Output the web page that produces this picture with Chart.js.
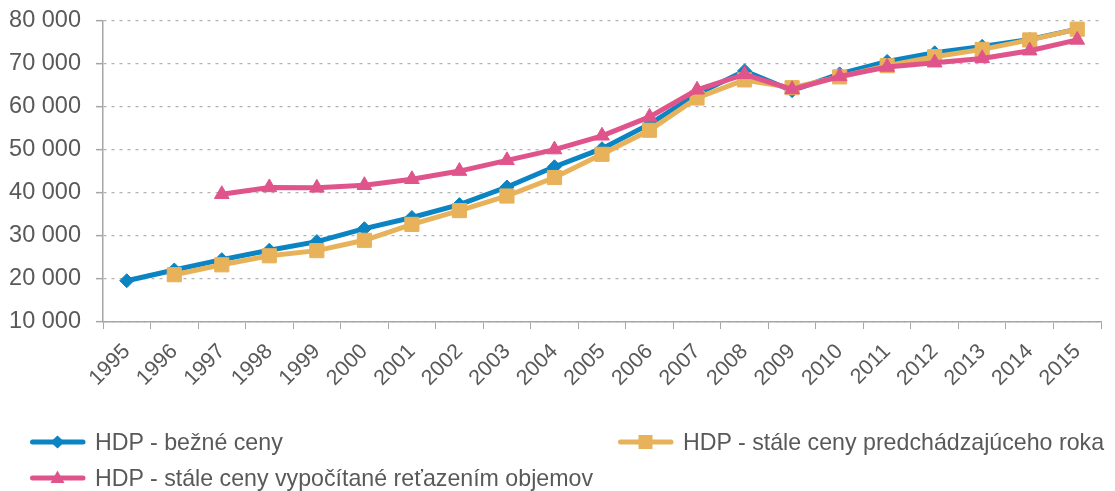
<!DOCTYPE html>
<html>
<head>
<meta charset="utf-8">
<script src="https://cdn.jsdelivr.net/npm/chart.js@4/dist/chart.umd.min.js"></script>
<style>
  html, body { margin: 0; padding: 0; background: #ffffff; }
  #wrap { position: relative; width: 1115px; height: 491px; overflow: hidden; }
  #c { position: absolute; left: 0; top: 0; }
  .lg { position: absolute; height: 26px; font-family: "Liberation Sans", Arial, sans-serif; font-size: 23.2px; line-height: 26px; color: #595959; white-space: nowrap; }
  .lg svg { position: absolute; left: 0; top: 3px; }
  .lg span { position: absolute; top: 0; }
</style>
</head>
<body>
<div id="wrap">
  <canvas id="c" width="1115" height="491"></canvas>
  <div id="legend"></div>
</div>
<script>
// ---- data ----
const years = ["1995","1996","1997","1998","1999","2000","2001","2002","2003","2004","2005","2006","2007","2008","2009","2010","2011","2012","2013","2014","2015"];
const bezneCeny = [19600, 22100, 24500, 26700, 28700, 31700, 34300, 37300, 41400, 46100, 50300, 56000, 63000, 68400, 63800, 67700, 70600, 72600, 74100, 75700, 78100];
const stalePredRoka = [null, 21000, 23300, 25400, 26600, 29000, 32700, 35900, 39300, 43600, 49000, 54600, 62100, 66300, 64500, 67000, 69600, 71700, 73400, 75600, 78100];
const staleRetazenie = [null, null, 39700, 41300, 41200, 41800, 43200, 45100, 47600, 50100, 53300, 57700, 64000, 67600, 64100, 67100, 69300, 70300, 71300, 73100, 75600];
const seriesNames = ["HDP - bežné ceny", "HDP - stále ceny predchádzajúceho roka", "HDP - stále ceny vypočítané reťazením objemov"];
const yMin = 10000, yMax = 80000, yStep = 10000;

const cBlue = "#0a84c2", cOrange = "#e8b25a", cPink = "#e0548c";
const textColor = "#595959";
const fontFam = '"Liberation Sans", Arial, sans-serif';

function fmt(v) { return String(v).replace(/\B(?=(\d{3})+(?!\d))/g, " "); }

new Chart(document.getElementById("c"), {
  type: "line",
  data: {
    labels: years,
    datasets: [
      { label: seriesNames[0], data: bezneCeny, borderColor: cBlue, backgroundColor: cBlue,
        borderWidth: 5, pointStyle: "rectRot", pointRadius: 7, pointBorderWidth: 1,
        pointBackgroundColor: cBlue, pointBorderColor: cBlue, order: 3, tension: 0 },
      { label: seriesNames[1], data: stalePredRoka, borderColor: cOrange, backgroundColor: cOrange,
        borderWidth: 5, pointStyle: "rect", pointRadius: 10, pointBorderWidth: 1,
        pointBackgroundColor: cOrange, pointBorderColor: cOrange, order: 2, tension: 0 },
      { label: seriesNames[2], data: staleRetazenie, borderColor: cPink, backgroundColor: cPink,
        borderWidth: 5, pointStyle: "triangle", pointRadius: 8.5, pointBorderWidth: 1,
        pointBackgroundColor: cPink, pointBorderColor: cPink, order: 1, tension: 0 }
    ]
  },
  options: {
    responsive: false,
    animation: false,
    devicePixelRatio: 1,
    layout: { padding: { left: 0, right: 14, top: 21, bottom: 94 } },
    plugins: { legend: { display: false }, tooltip: { enabled: false } },
    scales: {
      x: {
        offset: true,
        grid: { display: true, drawOnChartArea: false, drawTicks: true, tickLength: 7, color: "#a6a6a6", offset: true },
        border: { display: true, color: "#a6a6a6", width: 1.5 },
        ticks: { color: textColor, font: { family: fontFam, size: 21.5 }, minRotation: 45, maxRotation: 45, autoSkip: false, padding: 10 },
        afterFit: function (s) { s.height = 75; s.paddingLeft = 0; s.paddingRight = 0; }
      },
      y: {
        min: yMin, max: yMax,
        grid: { color: "#b3b3b3", lineWidth: 1.3, drawTicks: true, tickLength: 7, tickColor: "#a6a6a6", tickWidth: 1.5 },
        border: { display: true, color: "#a6a6a6", width: 1.5, dash: [3, 5] },
        ticks: { stepSize: yStep, color: textColor, font: { family: fontFam, size: 23.5 }, padding: 15,
                 callback: function (v) { return fmt(v); } },
        afterFit: function (s) { s.width = 103; s.paddingTop = 0; s.paddingBottom = 0; }
      }
    }
  }
});

// ---- HTML legend ----
const legendItems = [
  { name: seriesNames[0], color: cBlue, shape: "diamond", x: 30, y: 442 },
  { name: seriesNames[1], color: cOrange, shape: "square", x: 618, y: 442 },
  { name: seriesNames[2], color: cPink, shape: "triangle", x: 30, y: 478 }
];
function markerSvg(shape, color) {
  let m = "";
  if (shape === "diamond") m = `<polygon points="27.5,3.5 34.5,10 27.5,16.5 20.5,10" fill="${color}"/>`;
  else if (shape === "square") m = `<rect x="20.5" y="3" width="14" height="14" fill="${color}"/>`;
  else m = `<polygon points="27.5,2.5 34.5,15 20.5,15" fill="${color}"/>`;
  return `<svg width="56" height="20" viewBox="0 0 56 20"><line x1="2.5" y1="10" x2="53" y2="10" stroke="${color}" stroke-width="5" stroke-linecap="round"/>${m}</svg>`;
}
const lg = document.getElementById("legend");
legendItems.forEach(it => {
  const d = document.createElement("div");
  d.className = "lg";
  d.style.left = it.x + "px";
  d.style.top = (it.y - 13) + "px";
  d.innerHTML = markerSvg(it.shape, it.color) + `<span style="left:${65}px">${it.name}</span>`;
  lg.appendChild(d);
});
</script>
</body>
</html>
